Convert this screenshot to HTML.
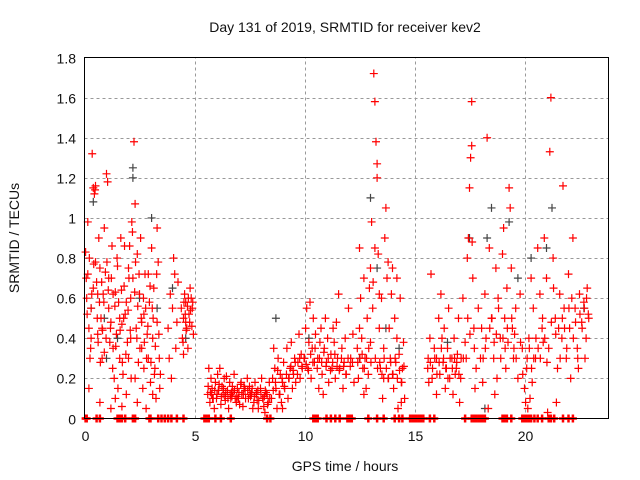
<!DOCTYPE html>
<html><head><meta charset="utf-8"><style>
body{margin:0;background:#fff}
svg{display:block;font-family:"Liberation Sans",sans-serif}
</style></head><body>
<svg id="chart" width="640" height="480" viewBox="0 0 640 480">
<rect width="640" height="480" fill="#fff"/>
<text x="345" y="32" text-anchor="middle" font-size="14" fill="#111">Day 131 of 2019, SRMTID for receiver kev2</text>
<text x="345" y="471" text-anchor="middle" font-size="14" fill="#111">GPS time / hours</text>
<text transform="translate(19,238) rotate(-90)" text-anchor="middle" font-size="14" fill="#111">SRMTID / TECUs</text>
<g id="grid"></g><g id="ticks"></g><g id="pts"></g>
<rect x="84.5" y="57.5" width="524" height="361" fill="none" stroke="#000" stroke-width="1"/>
</svg>
<script>
const xTicks=[0,5,10,15,20];
const yTicks=[0,0.2,0.4,0.6,0.8,1,1.2,1.4,1.6,1.8];
const yTickLabels=["0","0.2","0.4","0.6","0.8","1","1.2","1.4","1.6","1.8"];
const redT=[0.05,0.1,0.15,0.2,0.25,0.3,0.35,0.4,0.45,0.5,0.5,0.55,0.6,0.65,0.7,0.75,0.8,0.85,0.9,0.95,1.0,1.05,1.1,1.15,1.2,1.25,1.3,1.35,1.4,1.45,1.5,1.55,1.6,1.65,1.7,1.75,1.8,1.85,1.9,1.95,2.0,2.05,2.1,2.15,2.2,2.25,2.3,2.35,2.4,2.45,2.5,2.55,2.6,2.65,2.7,2.75,2.8,2.85,2.9,2.95,3.0,3.05,3.1,3.15,3.2,3.25,3.3,3.35,3.4,3.45,0.15,0.3,0.6,0.8,1.1,1.3,1.6,1.9,2.1,2.3,2.6,2.9,3.1,0.2,0.7,1.2,1.7,2.4,0.4,0.9,1.4,2.0,2.7,3.3,
0.08,0.12,0.22,0.28,0.33,0.42,0.48,0.58,0.62,0.68,0.72,0.78,0.82,0.88,0.98,1.02,1.08,1.18,1.22,1.28,1.38,1.42,1.48,1.52,1.62,1.68,1.72,1.78,1.82,1.88,1.98,2.02,2.08,2.12,2.18,2.28,2.32,2.38,2.42,2.48,2.52,2.58,2.68,2.72,2.78,2.82,2.88,2.98,3.02,3.08,3.12,3.18,3.22,3.28,3.38,3.42,
3.8,3.85,3.9,3.95,4.0,4.05,4.1,4.15,4.2,4.25,4.4,4.45,4.5,4.55,4.6,4.65,4.7,4.75,4.8,4.85,4.9,4.95,4.5,4.6,4.48,4.52,4.58,4.62,4.68,4.72,4.78,4.82,4.88,4.92,
5.6,5.7,5.75,5.8,5.9,5.95,6.0,6.05,6.1,6.2,6.25,6.3,6.35,6.4,6.5,6.55,6.6,6.7,6.75,6.8,6.9,6.95,7.0,7.1,7.15,7.2,7.3,7.4,7.45,7.5,7.6,7.7,7.75,7.8,7.9,8.0,8.1,8.2,8.25,8.35,8.4,5.65,6.15,6.45,6.85,7.25,7.65,8.05,8.3,5.85,6.65,7.05,7.55,7.85,8.15,
5.62,5.72,5.82,5.92,6.02,6.12,6.22,6.32,6.42,6.52,6.62,6.72,6.82,6.92,7.02,7.12,7.22,7.32,7.42,7.52,7.62,7.72,7.82,7.92,8.02,8.12,8.22,8.32,8.42,5.78,6.08,6.38,6.68,6.98,7.28,7.58,7.88,8.18,
8.5,8.55,8.6,8.65,8.7,8.75,8.8,8.85,8.9,8.95,9.0,9.05,9.1,9.2,9.25,9.3,9.35,9.4,9.5,9.55,9.6,9.7,9.75,9.8,9.85,9.9,10.0,10.05,10.1,10.15,10.2,10.3,10.35,10.4,10.45,10.5,10.6,10.65,10.7,10.75,10.8,10.9,10.95,11.0,11.05,11.1,11.2,11.25,11.3,11.35,11.4,11.5,11.55,11.6,11.7,11.75,11.8,11.85,11.9,12.0,12.1,12.2,12.25,9.0,9.45,10.25,10.85,11.45,
8.58,8.68,8.78,8.88,8.98,9.08,9.18,9.28,9.38,9.48,9.58,9.68,9.78,9.88,9.98,10.08,10.18,10.28,10.38,10.48,10.58,10.68,10.78,10.88,10.98,11.08,11.18,11.28,11.38,11.48,11.58,11.68,11.78,11.88,11.98,12.08,12.18,
12.4,12.45,12.5,12.55,12.6,12.65,12.7,12.75,12.8,12.85,12.9,12.95,13.0,13.05,13.1,13.15,13.2,13.25,13.3,13.3,13.35,13.4,13.45,13.5,13.55,13.6,13.65,13.7,13.75,13.8,13.85,13.9,13.95,14.0,14.05,14.1,14.15,14.2,14.25,14.3,14.35,14.4,14.45,14.5,14.55,12.5,12.7,13.0,13.2,13.4,13.6,13.8,14.0,14.2,14.4,
12.42,12.52,12.62,12.72,12.82,12.92,13.02,13.12,13.22,13.32,13.42,13.52,13.62,13.72,13.82,13.92,14.02,14.12,14.22,14.32,14.42,14.52,
15.6,15.7,15.75,15.8,15.9,16.0,16.1,16.15,16.2,16.3,16.35,16.4,16.5,16.55,16.6,16.7,16.75,16.8,16.9,16.95,17.0,17.1,17.2,17.3,17.4,17.45,17.5,17.55,17.6,17.6,17.65,17.7,17.8,17.9,18.0,18.1,18.2,18.25,18.3,18.4,18.5,18.6,18.7,18.75,18.8,18.9,19.0,19.05,19.1,19.15,19.2,19.3,19.35,19.4,19.45,19.5,19.6,19.7,19.8,19.9,20.0,20.05,20.1,20.2,20.3,20.4,20.5,20.6,20.7,20.8,20.9,21.0,21.1,21.15,21.2,21.3,21.4,21.5,21.6,21.7,21.75,21.8,21.9,22.0,22.05,22.1,22.2,22.3,22.4,22.5,22.6,22.7,22.8,22.85,22.9,16.0,16.45,17.05,17.75,18.35,19.25,20.15,20.25,21.05,21.45,22.15,22.75,15.65,16.25,16.85,17.35,18.05,18.65,19.55,20.35,20.85,21.55,22.45,
15.62,15.72,15.82,15.92,16.02,16.12,16.22,16.32,16.42,16.52,16.62,16.72,16.82,16.92,17.02,17.12,17.22,17.42,17.52,17.62,17.72,18.12,18.22,18.42,18.52,18.62,18.72,18.82,18.92,19.02,19.12,19.22,19.42,19.52,19.62,19.82,19.92,20.12,20.22,20.32,20.42,20.52,20.62,20.72,20.82,20.92,21.02,21.22,21.32,21.42,21.62,21.72,21.82,21.92,22.02,22.22,22.32,22.42,22.52,22.62,22.72,22.82,22.92];
const redV=[0.83,0.6,0.72,0.45,0.3,0.55,1.32,1.15,1.12,1.16,0.78,0.68,0.42,0.9,0.75,0.5,0.3,0.62,0.95,0.73,1.22,1.18,0.55,0.38,0.48,0.86,0.62,0.2,0.1,0.42,0.76,0.58,0.3,0.9,0.47,0.22,0.66,0.52,0.12,0.38,0.75,0.86,0.6,0.98,0.7,1.38,1.07,0.45,0.82,0.28,0.62,0.9,0.35,0.15,0.52,0.72,0.05,0.42,0.3,0.58,0.18,0.85,0.4,0.65,0.25,0.1,0.48,0.78,0.3,0.22,0.98,0.4,0.62,0.45,0.7,0.35,0.5,0.58,0.4,0.2,0.48,0.72,0.12,0.15,0.08,0.05,0.06,0.08,0.65,0.33,0.63,0.3,0.25,0.95,
0.7,0.52,0.8,0.35,0.62,0.77,1.14,0.5,0.38,0.58,0.28,0.68,0.44,0.58,0.4,0.78,0.64,0.45,0.7,0.25,0.56,0.36,0.8,0.15,0.44,0.64,0.28,0.5,0.86,0.32,0.54,0.7,0.44,0.2,0.93,0.63,0.78,0.4,0.56,0.72,0.35,0.5,0.6,0.38,0.55,0.3,0.46,0.66,0.28,0.55,0.5,0.22,0.36,0.72,0.42,0.15,
0.45,0.3,0.62,0.2,0.55,0.8,0.72,0.35,0.48,0.68,0.55,0.4,0.5,0.62,0.58,0.45,0.35,0.52,0.65,0.6,0.55,0.42,0.32,0.48,0.38,0.58,0.52,0.44,0.56,0.6,0.48,0.54,0.46,0.58,
0.12,0.08,0.2,0.15,0.05,0.18,0.1,0.22,0.14,0.07,0.16,0.12,0.2,0.09,0.14,0.05,0.18,0.11,0.13,0.22,0.08,0.15,0.1,0.17,0.12,0.06,0.14,0.2,0.1,0.16,0.13,0.08,0.18,0.12,0.05,0.15,0.1,0.03,0.13,0.08,0.18,0.25,0.25,0.21,0.1,0.16,0.05,0.2,0.12,0.1,0.1,0.07,0.11,0.09,0.06,
0.16,0.13,0.1,0.14,0.12,0.17,0.11,0.15,0.13,0.1,0.12,0.16,0.14,0.11,0.13,0.18,0.12,0.1,0.14,0.12,0.15,0.11,0.13,0.09,0.12,0.1,0.14,0.07,0.1,0.12,0.14,0.11,0.13,0.1,0.15,0.12,0.14,0.11,
0.1,0.2,0.35,0.25,0.15,0.05,0.3,0.12,0.22,0.08,0.18,0.28,0.15,0.35,0.1,0.2,0.25,0.38,0.22,0.3,0.18,0.28,0.42,0.2,0.32,0.25,0.3,0.45,0.55,0.25,0.38,0.2,0.35,0.5,0.28,0.42,0.3,0.15,0.38,0.45,0.22,0.35,0.5,0.28,0.4,0.18,0.32,0.25,0.45,0.38,0.2,0.3,0.62,0.25,0.35,0.15,0.28,0.4,0.22,0.55,0.3,0.42,0.18,0.05,0.15,0.58,0.12,0.48,
0.14,0.18,0.24,0.12,0.2,0.16,0.22,0.2,0.26,0.24,0.28,0.22,0.3,0.26,0.3,0.27,0.24,0.32,0.28,0.35,0.25,0.3,0.28,0.33,0.26,0.3,0.24,0.28,0.32,0.26,0.24,0.3,0.26,0.22,0.3,0.26,0.28,
0.35,0.2,0.85,0.6,0.4,0.25,0.7,0.3,0.15,0.5,0.22,0.65,0.38,0.98,0.55,1.72,1.58,1.38,1.2,1.27,0.82,0.45,0.25,0.6,0.1,0.35,0.9,1.05,0.7,0.2,0.45,0.3,0.62,0.75,0.15,0.5,0.28,0.4,0.05,0.32,0.6,0.18,0.25,0.38,0.1,0.45,0.12,0.75,0.85,0.62,0.2,0.78,0.22,0.7,0.08,
0.28,0.3,0.32,0.25,0.3,0.35,0.28,0.68,0.3,0.25,0.28,0.22,0.3,0.25,0.2,0.28,0.22,0.3,0.2,0.24,0.18,0.26,
0.25,0.4,0.72,0.2,0.35,0.3,0.5,0.22,0.62,0.28,0.45,0.15,0.35,0.55,0.2,0.3,0.12,0.4,0.25,0.32,0.5,0.2,0.6,0.38,0.8,0.9,1.15,1.3,1.58,1.36,0.7,0.45,0.25,0.55,0.3,0.18,0.62,0.4,1.4,0.85,0.5,0.3,0.75,0.2,0.6,0.4,0.82,0.95,0.5,0.25,0.65,1.15,1.05,0.75,0.45,0.3,0.55,0.2,0.62,0.35,0.15,0.08,0.25,0.4,0.7,0.55,0.3,0.85,0.62,0.45,0.9,0.7,0.35,1.33,1.6,0.8,0.5,0.25,0.62,0.4,1.16,0.55,0.3,0.72,0.45,0.2,0.9,0.55,0.35,0.62,0.48,0.58,0.4,0.65,0.52,0.12,0.25,0.08,0.15,0.05,0.38,0.05,0.1,0.03,0.08,0.6,0.3,0.18,0.4,0.22,0.3,0.45,0.12,0.42,0.18,0.38,0.45,0.25,
0.3,0.28,0.25,0.3,0.22,0.28,0.35,0.3,0.25,0.2,0.3,0.25,0.3,0.28,0.22,0.3,0.3,0.5,0.42,0.88,0.35,0.3,0.35,0.45,0.5,0.38,0.42,0.55,0.3,0.4,0.35,0.45,0.5,0.35,0.3,0.38,0.22,0.3,0.35,0.25,0.3,0.4,0.35,0.3,0.5,0.4,0.28,0.48,0.65,0.42,0.3,0.5,0.45,0.35,0.55,0.4,0.48,0.3,0.52,0.45,0.55,0.6,0.5];
const grayT=[0.4,0.3,0.9,1.5,2.2,2.2,2.5,3.05,3.3,4.0,4.6,8.7,10.2,12.5,13.0,13.3,13.7,17.5,18.3,18.5,19.3,19.7,20.3,21.0,21.25,22.7,18.2,1.0,16.5,14.3];
const grayV=[1.08,0.55,0.5,0.4,1.25,1.2,0.6,1.0,0.55,0.65,0.4,0.5,0.4,0.3,1.1,0.75,0.45,0.9,0.9,1.05,0.98,0.7,0.8,0.85,1.05,0.55,0.05,0.3,0.38,0.35];
const zeroT=[0.05,0.1,0.55,0.7,1.5,1.6,1.7,1.85,2.2,2.3,2.95,3.0,3.35,3.5,3.65,3.8,3.95,4.2,4.5,5.45,5.55,5.65,5.95,6.2,6.65,8.3,8.45,10.4,10.5,10.6,11.0,11.2,11.4,11.6,11.95,12.05,12.15,12.9,13.3,13.6,14.1,14.3,14.45,14.8,14.9,15.0,15.1,15.2,15.3,15.4,15.7,15.9,17.3,17.6,17.7,17.8,17.9,18.0,18.1,18.2,19.0,19.1,19.2,19.4,19.9,20.0,20.1,20.2,20.3,20.45,20.6,20.8,21.1,21.2,21.35,21.75,22.0,22.2];
const X0=84.5,X1=608.5,Y0=418.5,Y1=57.5,XMAX=(608.5-84.5)/22,YMAX=1.8;
const xs=t=>X0+t/XMAX*(X1-X0);
const ys=v=>Y0-v/YMAX*(Y0-Y1);
const NS="http://www.w3.org/2000/svg";
function mk(tag,attrs,parent){const e=document.createElementNS(NS,tag);for(const k in attrs)e.setAttribute(k,attrs[k]);parent.appendChild(e);return e;}
const grid=document.getElementById('grid'),ticks=document.getElementById('ticks'),pts=document.getElementById('pts');
yTicks.forEach((v,i)=>{const y=Math.round(ys(v))+0.5;
 if(i>0&&i<yTicks.length-1){const g=mk('line',{x1:X0,x2:X1,y1:y,y2:y,stroke:'#999','stroke-dasharray':'3,3'},grid);
 
 }
 const t=mk('text',{x:76,y:y+5,'text-anchor':'end','font-size':14,fill:'#111'},ticks);t.textContent=yTickLabels[i];
 
 });
xTicks.forEach(v=>{const x=Math.round(xs(v))+0.5;
 if(v>0){const g=mk('line',{x1:x,x2:x,y1:Y0,y2:Y1,stroke:'#999','stroke-dasharray':'3,3'},grid);
 
 }
 const t=mk('text',{x:x,y:441,'text-anchor':'middle','font-size':14,fill:'#111'},ticks);t.textContent=String(v);
 
 });
function plus(t,v,col,name,sw){const x=xs(t),y=ys(v);
 const p=mk('path',{d:`M${x-4},${y}h8M${x},${y-4}v8`,stroke:col,'stroke-width':sw,fill:'none'},pts);
 
 }
grayT.forEach((t,i)=>plus(t,grayV[i],'#444','gray-point',1.2));
redT.forEach((t,i)=>plus(t,redV[i],'#f00','red-point',1.2));
zeroT.forEach(t=>plus(t,0,'#f00','zero-point',2.5));
</script>
</body></html>
